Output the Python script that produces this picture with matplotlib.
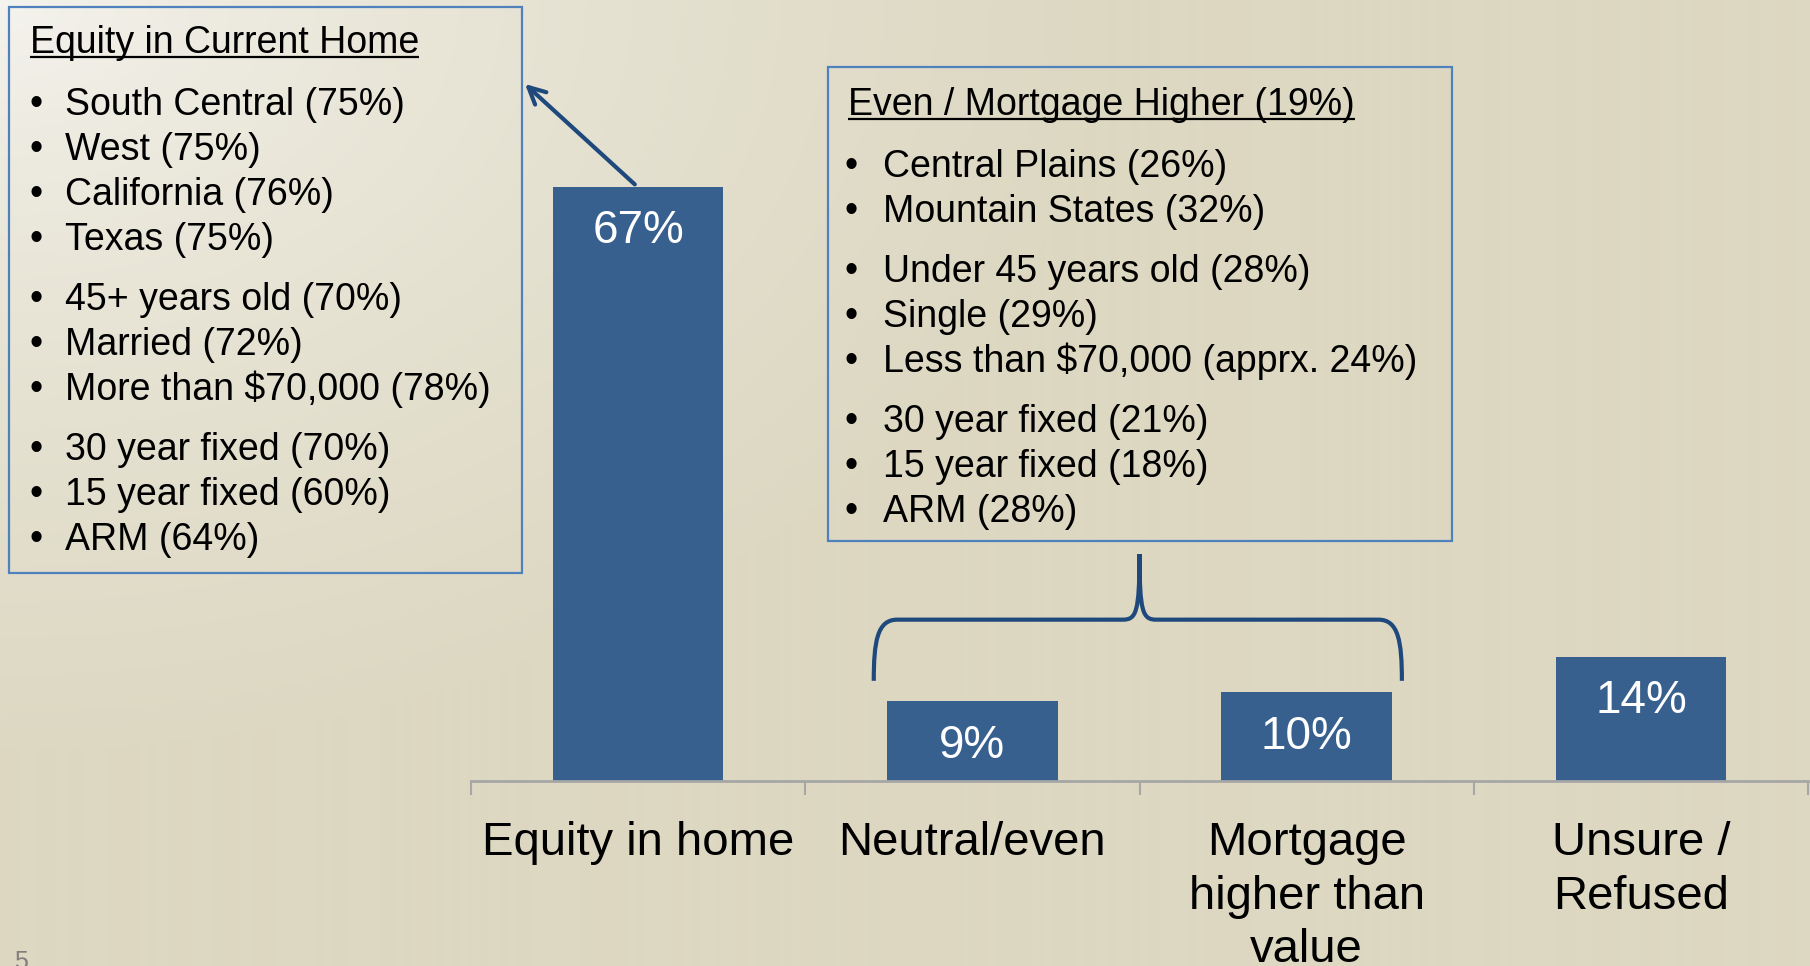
import numpy as np
import matplotlib.pyplot as plt
from matplotlib.patches import Rectangle, PathPatch
from matplotlib.path import Path
from matplotlib.colors import to_rgb

plt.rcParams['font.family'] = ['Liberation Sans', 'DejaVu Sans']

categories = ['Equity in home', 'Neutral/even', 'Mortgage\nhigher than\nvalue', 'Unsure /\nRefused']
values = [67, 9, 10, 14]

equity_title = 'Equity in Current Home'
equity_groups = [
    ['South Central (75%)', 'West (75%)', 'California (76%)', 'Texas (75%)'],
    ['45+ years old (70%)', 'Married (72%)', 'More than $70,000 (78%)'],
    ['30 year fixed (70%)', '15 year fixed (60%)', 'ARM (64%)'],
]
mortgage_title = 'Even / Mortgage Higher (19%)'
mortgage_groups = [
    ['Central Plains (26%)', 'Mountain States (32%)'],
    ['Under 45 years old (28%)', 'Single (29%)', 'Less than $70,000 (apprx. 24%)'],
    ['30 year fixed (21%)', '15 year fixed (18%)', 'ARM (28%)'],
]

W, H = 1810, 966
bar_color = '#37608f'
dark_blue = '#1f497d'
box_blue = '#4f81bd'

fig = plt.figure(figsize=(W / 100, H / 100), dpi=100)

# background gradient, light in the top-left corner
bg = fig.add_axes([0, 0, 1, 1])
yy, xx = np.mgrid[0:H, 0:W]
d = np.clip(np.sqrt((xx / 1100.0) ** 2 + (yy / 750.0) ** 2), 0, 1) ** 0.7
light = np.array(to_rgb('#f5f4ef'))
beige = np.array(to_rgb('#ddd8c2'))
img = light[None, None, :] * (1 - d[..., None]) + beige[None, None, :] * d[..., None]
bg.imshow(img, aspect='auto', extent=(0, W, H, 0))
bg.axis('off')

# bar chart
ax = fig.add_axes([471 / W, (H - 781) / H, (1808 - 471) / W, 781 / H])
ax.patch.set_alpha(0)
x = np.arange(len(categories))
ax.bar(x, values, width=0.51, color=bar_color, zorder=2)
ax.set_xlim(-0.5, len(categories) - 0.5)
ax.set_ylim(0, 88.1)
for s in ['top', 'right', 'left']:
    ax.spines[s].set_visible(False)
ax.spines['bottom'].set_color('#a6a6a6')
ax.spines['bottom'].set_linewidth(2)
ax.set_yticks([])
ax.set_xticks(np.arange(-0.5, len(categories)), labels=[])
ax.tick_params(axis='x', which='major', length=10, width=1.5, color='#a6a6a6')
ax.set_xticks(x, labels=categories, minor=True)
ax.tick_params(axis='x', which='minor', length=0, pad=29, labelsize=34)
for lab in ax.get_xticklabels(minor=True):
    lab.set_linespacing(1.28)

for xi, v in zip(x, values):
    ax.text(xi, v - 5.0, f'{v}%', ha='center', va='center', color='white', fontsize=33)

# brace over the two middle bars
L, R, C = 0.705, 2.285, 1.5
y0, y1, yp = 11.3, 18.2, 25.6
verts = [(L, y0), (L, y1 - 2.5), (L + 0.01, y1), (L + 0.07, y1),
         (C - 0.05, y1), (C - 0.01, y1), (C, y1 + 0.8), (C, yp),
         (C, y1 + 0.8), (C + 0.01, y1), (C + 0.05, y1),
         (R - 0.07, y1), (R - 0.01, y1), (R, y1 - 2.5), (R, y0)]
codes = [Path.MOVETO, Path.CURVE4, Path.CURVE4, Path.CURVE4,
         Path.LINETO, Path.CURVE4, Path.CURVE4, Path.CURVE4,
         Path.CURVE4, Path.CURVE4, Path.CURVE4,
         Path.LINETO, Path.CURVE4, Path.CURVE4, Path.CURVE4]
ax.add_patch(PathPatch(Path(verts, codes), fill=False, ec=dark_blue, lw=3,
                       clip_on=False, capstyle='butt'))

# arrow from the first bar to the left box
ax.annotate('', xy=(525 / W, 1 - 84 / H), xycoords='figure fraction',
            xytext=(-0.01, values[0] + 0.3), textcoords='data',
            arrowprops=dict(arrowstyle='->', color=dark_blue, lw=3,
                            mutation_scale=30, shrinkA=0, shrinkB=0))

# overlay in pixel coordinates for the text boxes
ov = fig.add_axes([0, 0, 1, 1])
ov.set_xlim(0, W)
ov.set_ylim(H, 0)
ov.axis('off')
ov.patch.set_alpha(0)


def draw_box(rect, title, groups, tx, bx, ix, title_base):
    ov.add_patch(Rectangle(rect[:2], rect[2], rect[3], fill=False, ec=box_blue, lw=1.6))
    t = ov.text(tx, title_base, title, fontsize=27, va='baseline', parse_math=False)
    y = title_base + 62
    for gi, group in enumerate(groups):
        if gi > 0:
            y += 15
        for item in group:
            ov.text(bx, y, '\u2022', fontsize=27, va='baseline')
            ov.text(ix, y, item, fontsize=27, va='baseline', parse_math=False)
            y += 45
    return t


t1 = draw_box((9, 7, 513, 566), equity_title, equity_groups, 30, 29, 65, 53)
t2 = draw_box((828, 67, 624, 474), mortgage_title, mortgage_groups, 848, 844, 883, 115)

fig.canvas.draw()
for t in (t1, t2):
    bb = t.get_window_extent()
    ty = t.get_position()[1] + 4
    ov.plot([bb.x0, bb.x1], [ty, ty], color='black', lw=1.6, solid_capstyle='butt')

ov.text(14, 950, '5', fontsize=18, color='#7f7f7f', va='top')

plt.savefig('out.png', dpi=100)
